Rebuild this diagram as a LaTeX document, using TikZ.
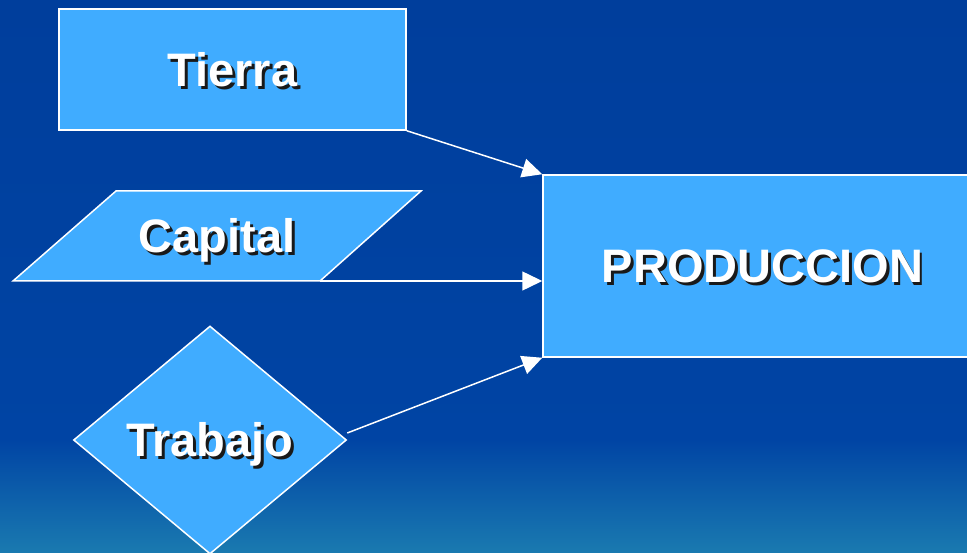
\documentclass[tikz,border=0pt]{standalone}
\usepackage{fontspec}
\setmainfont{Liberation Sans}
\usepackage{tikz}
\usetikzlibrary{shapes}
\usetikzlibrary{shapes.geometric}
\usetikzlibrary{positioning}
\usetikzlibrary{arrows.meta}
\definecolor{bgtop}{RGB}{0,62,156}
\definecolor{bgmid}{RGB}{0,68,164}
\definecolor{bgbot}{RGB}{26,122,176}
\definecolor{boxfill}{RGB}{64,172,255}
\newcommand{\shtext}[1]{\makebox[0pt][l]{\hspace{2.8pt}\raisebox{-2.8pt}{\color{black!90}#1}}#1}
\tikzset{
    boxline/.style = {line width=1.5pt, draw=white, fill=boxfill},
    boxt/.style = {inner sep=0pt, align=center, text=white,
                   font=\fontsize{47}{50}\selectfont\bfseries, text height=33.6pt, text depth=0pt},
    boxn/.style = {rectangle, boxline, boxt},
    boxd/.style = {boxn, diamond},
    edgew/.style = {-{Triangle[length=20pt,width=19pt]}, line width=1.5pt, white}
}
\begin{document}
\begin{tikzpicture}[x=1pt,y=-1pt]
  % background
  \useasboundingbox (0,0) rectangle (967,553);
  \clip (0,0) rectangle (967,553);
  \shade[top color=bgtop, bottom color=bgmid] (0,0) rectangle (967,440);
  \shade[top color=bgmid, bottom color=bgbot] (0,439) rectangle (967,553);
  % nodes
  \node[boxn, minimum width=347pt, minimum height=121pt] (tierra) at (232.5,69.5) {\shtext{Tierra}};
  \coordinate (capse) at (320,281);
  \draw[boxline] (13,281) -- (116,191) -- (421,191) -- (capse) -- cycle;
  \node[boxt] (capital) at (217,236) {\shtext{Capital}};
  \node[boxd, minimum width=273pt, minimum height=228pt] (trabajo) at (210,440) {\shtext{Trabajo}};
  \node[boxn, minimum width=439pt, minimum height=182pt] (prod) at (762.5,266) {\shtext{PRODUCCION}};
  % arrows
  \draw[edgew] (tierra.south east) -- (prod.north west);
  \draw[edgew] (capse) -- (capse -| prod.west);
  \draw[edgew] ([yshift=7pt]trabajo.east) -- (prod.south west);
\end{tikzpicture}
\end{document}
